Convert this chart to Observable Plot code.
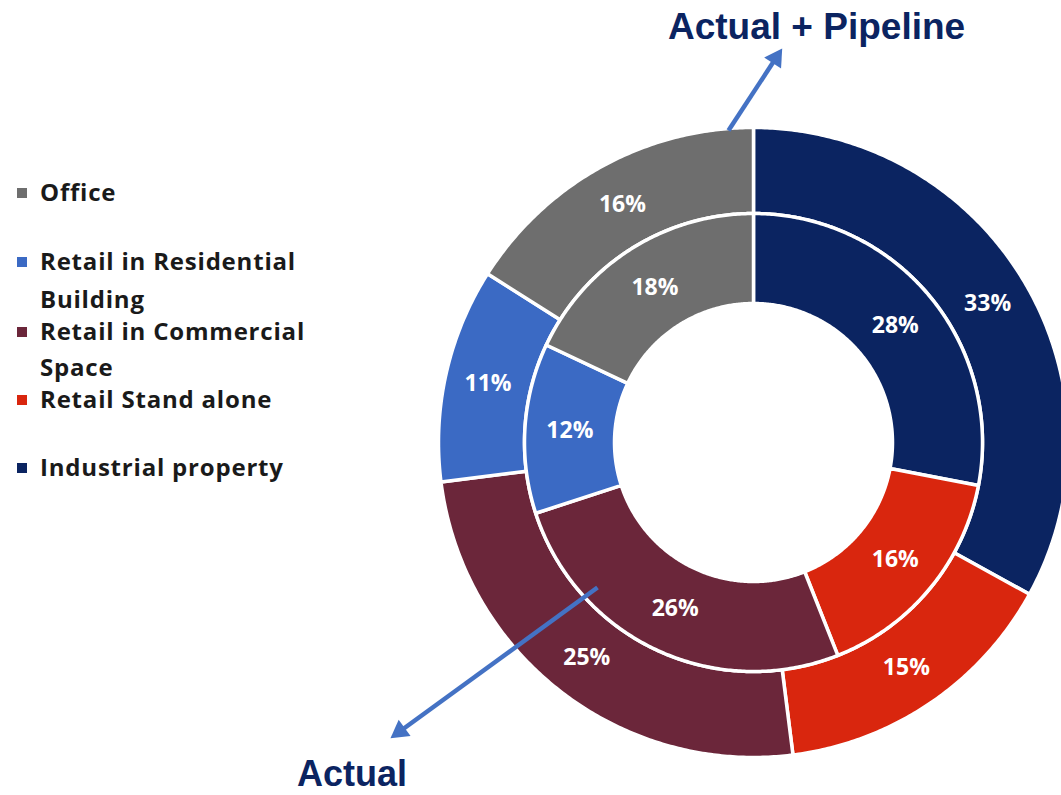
<!DOCTYPE html>
<html>
<head>
<meta charset="utf-8">
<script src="https://cdn.jsdelivr.net/npm/d3@7"></script>
<script src="https://cdn.jsdelivr.net/npm/@observablehq/plot@0.6"></script>
<style>
  html, body { margin: 0; padding: 0; background: #fff; }
  #wrap { position: relative; width: 1061px; height: 795px; overflow: hidden; }
  #chart { position: absolute; left: 0; top: 0; }
  .title { position: absolute; font-family: "Liberation Sans", Arial, sans-serif; font-weight: bold; font-size: 37px; line-height: 30px; color: #0B2461; white-space: nowrap; }
  .legend { position: absolute; left: 17px; top: 0; width: 400px; height: 795px; font-family: "Open Sans", sans-serif; font-weight: 700; font-size: 24px; letter-spacing: 0.8px; color: #1a1a1a; }
  .sw { position: absolute; left: 0; width: 10px; height: 10px; }
  .lab { position: absolute; left: 23px; line-height: 30px; white-space: nowrap; }
</style>
</head>
<body>
<div id="wrap"></div>
<script>
// ---- data ----
const categories = ["Industrial property", "Retail Stand alone", "Retail in Commercial Space", "Retail in Residential Building", "Office"];
const actual = [28, 16, 26, 12, 18];            // inner ring
const actualPipeline = [33, 15, 25, 11, 16];    // outer ring
const colors = ["#0B2461", "#D9260E", "#6B263A", "#3B6AC4", "#6E6E6E"];
const legendOrder = ["Office", "Retail in Residential Building", "Retail in Commercial Space", "Retail Stand alone", "Industrial property"];
const legendLines = [["Office"], ["Retail in Residential", "Building"], ["Retail in Commercial", "Space"], ["Retail Stand alone"], ["Industrial property"]];

// ---- layout ----
const W = 1061, H = 795;
const CX = 753, CY = 442;
const R0 = 139, R1 = 229, R2 = 315;

function ringSlices(values, rIn, rOut, ring) {
  const total = d3.sum(values);
  const polys = [], labels = [];
  let acc = 0;
  values.forEach((v, i) => {
    const a0 = acc / total * 2 * Math.PI;
    acc += v;
    const a1 = acc / total * 2 * Math.PI;
    const n = Math.max(2, Math.ceil((a1 - a0) / (Math.PI / 360)));
    const id = ring + "-" + i;
    for (let k = 0; k <= n; k++) {
      const a = a0 + (a1 - a0) * k / n;
      polys.push({id, cat: categories[i], x: rOut * Math.sin(a), y: -rOut * Math.cos(a)});
    }
    for (let k = n; k >= 0; k--) {
      const a = a0 + (a1 - a0) * k / n;
      polys.push({id, cat: categories[i], x: rIn * Math.sin(a), y: -rIn * Math.cos(a)});
    }
    const am = (a0 + a1) / 2, rm = (rIn + rOut) / 2;
    labels.push({x: rm * Math.sin(am), y: -rm * Math.cos(am), text: v + "%"});
  });
  return {polys, labels};
}

const inner = ringSlices(actual, R0, R1, "in");
const outer = ringSlices(actualPipeline, R1, R2, "out");

// annotation arrows (relative to centre)
const arrows = [
  {x1: -25, y1: -312, x2: 28, y2: -393},
  {x1: -156, y1: 145, x2: -362, y2: 295}
];
const HEAD = 18;
const arrowLines = arrows.map(a => {
  const dx = a.x2 - a.x1, dy = a.y2 - a.y1, L = Math.hypot(dx, dy);
  const ux = dx / L, uy = dy / L;
  return {x1: a.x1, y1: a.y1, x2: a.x2 - ux * HEAD * 0.8, y2: a.y2 - uy * HEAD * 0.8};
});
const arrowHeads = arrows.map(a => {
  const dx = a.x2 - a.x1, dy = a.y2 - a.y1, L = Math.hypot(dx, dy);
  const ux = dx / L, uy = dy / L;
  const back = HEAD * Math.sqrt(3) / 2 * 2 / 3;
  return {x: a.x2 - ux * back, y: a.y2 - uy * back, rot: Math.atan2(dx, -dy) * 180 / Math.PI};
});

const chart = Plot.plot({
  width: W, height: H,
  margin: 0,
  x: {domain: [-CX, W - CX], range: [0, W], axis: null},
  y: {domain: [-CY, H - CY], range: [0, H], axis: null},
  color: {domain: categories, range: colors},
  style: {background: "transparent"},
  marks: [
    Plot.line(outer.polys, {x: "x", y: "y", z: "id", fill: "cat", stroke: "white", strokeWidth: 3.5, curve: "linear-closed"}),
    Plot.line(inner.polys, {x: "x", y: "y", z: "id", fill: "cat", stroke: "white", strokeWidth: 3.5, curve: "linear-closed"}),
    Plot.text(outer.labels.concat(inner.labels), {x: "x", y: "y", text: "text", fill: "white", fontSize: 23, fontWeight: "bold", fontFamily: "Open Sans, sans-serif"}),
    Plot.link(arrowLines, {x1: "x1", y1: "y1", x2: "x2", y2: "y2", stroke: "#4472C4", strokeWidth: 4.5}),
    Plot.dot(arrowHeads, {x: "x", y: "y", rotate: "rot", symbol: "triangle", r: 7.5, fill: "#4472C4", stroke: "none"})
  ]
});
chart.id = "chart";
const wrap = document.getElementById("wrap");
wrap.appendChild(chart);

// titles
function addTitle(text, left, top, size) {
  const d = document.createElement("div");
  d.className = "title"; d.textContent = text;
  d.style.left = left + "px"; d.style.top = top + "px";
  d.style.fontSize = size + "px";
  wrap.appendChild(d);
}
addTitle("Actual + Pipeline", 668, 12, 37);
addTitle("Actual", 297, 759, 36);

// legend
const legend = document.createElement("div");
legend.className = "legend";
const lineTops = [[177], [246, 284], [316, 352], [384], [452]];
legendOrder.forEach((cat, i) => {
  const col = colors[categories.indexOf(cat)];
  const sw = document.createElement("div");
  sw.className = "sw"; sw.style.background = col;
  sw.style.top = (lineTops[i][0] + 11) + "px";
  legend.appendChild(sw);
  legendLines[i].forEach((t, j) => {
    const l = document.createElement("div");
    l.className = "lab"; l.textContent = t;
    l.style.top = lineTops[i][j] + "px";
    legend.appendChild(l);
  });
});
wrap.appendChild(legend);
</script>
</body>
</html>
